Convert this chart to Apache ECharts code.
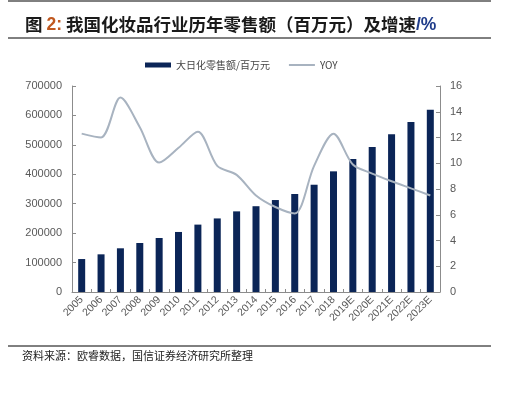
<!DOCTYPE html>
<html>
<head>
<meta charset="utf-8">
<style>
  html, body { margin: 0; padding: 0; background: #fff; }
  #chart { width: 505px; height: 396px; }
</style>
<script src="https://cdn.jsdelivr.net/npm/echarts@6/dist/echarts.min.js"></script>
</head>
<body>
<div id="chart"></div>
<script>
const years = ['2005', '2006', '2007', '2008', '2009', '2010', '2011', '2012', '2013', '2014',
  '2015', '2016', '2017', '2018', '2019E', '2020E', '2021E', '2022E', '2023E']
const sales = [112000, 128000, 148500, 166500, 183500, 204000, 229000, 250000, 274000, 291500,
  312500, 333000, 364500, 410000, 452000, 493000, 536000, 578000, 619500]
const yoy = [12.3, 12.0, 15.1, 12.8, 10.05, 11.2, 12.45, 9.8, 9.1, 7.5,
  6.6, 6.1, 9.8, 12.3, 9.9, 9.2, 8.6, 8.05, 7.5]

const chart = echarts.init(document.getElementById('chart'))
const font = 'Arial, "Liberation Sans", "Noto Sans CJK SC", sans-serif'
const axisGray = '#8c8c8c'

chart.setOption({
  animation: false,
  title: {
    text: '{a|图 }{b|2:}{a| 我国化妆品行业历年零售额（百万元）及增速}{c|/%}',
    left: 20,
    top: 11,
    textStyle: {
      rich: {
        a: { fontSize: 17.5, fontWeight: 'bold', color: '#1a1a1a', fontFamily: '"Noto Sans CJK SC", sans-serif' },
        b: { fontSize: 17.5, fontWeight: 'bold', color: '#c0581f', fontFamily: font },
        c: { fontSize: 17.5, fontWeight: 'bold', color: '#1f3c8a', fontFamily: font },
      },
    },
  },
  graphic: [
    { type: 'line', shape: { x1: 8, y1: 1, x2: 491, y2: 1 }, style: { stroke: '#000', lineWidth: 1 } },
    { type: 'line', shape: { x1: 8, y1: 38, x2: 491, y2: 38 }, style: { stroke: '#000', lineWidth: 1 } },
    { type: 'line', shape: { x1: 8, y1: 346, x2: 491, y2: 346 }, style: { stroke: '#000', lineWidth: 1 } },
    {
      type: 'text', left: 22, top: 350,
      style: { text: '资料来源：欧睿数据，国信证券经济研究所整理', fontSize: 11, fill: '#222', fontFamily: '"Noto Sans CJK SC", serif' },
    },
  ],
  legend: {
    top: 55,
    left: 140,
    itemWidth: 26,
    itemHeight: 5,
    itemGap: 18,
    textStyle: { fontSize: 10, color: '#444', fontFamily: '"Noto Sans CJK SC", sans-serif' },
    data: [
      { name: '大日化零售额/百万元', icon: 'rect' },
      { name: 'YOY', itemStyle: { opacity: 0 } },
    ],
  },
  grid: { left: 72, right: 65, top: 86, bottom: 104 },
  xAxis: {
    type: 'category',
    data: years,
    axisLine: { lineStyle: { color: axisGray } },
    axisTick: { show: true, inside: true, length: 3, lineStyle: { color: axisGray } },
    axisLabel: { rotate: 45, fontSize: 10.5, color: '#595959', fontFamily: font, margin: 6, interval: 0 },
  },
  yAxis: [
    {
      type: 'value',
      min: 0,
      max: 700000,
      interval: 100000,
      splitLine: { show: false },
      axisLine: { show: true, lineStyle: { color: axisGray } },
      axisTick: { show: true, inside: true, length: 4, lineStyle: { color: axisGray } },
      axisLabel: { fontSize: 11, color: '#595959', fontFamily: font, margin: 10, formatter: (v) => String(v) },
    },
    {
      type: 'value',
      min: 0,
      max: 16,
      interval: 2,
      splitLine: { show: false },
      axisLine: { show: true, lineStyle: { color: axisGray } },
      axisTick: { show: true, inside: true, length: 4, lineStyle: { color: axisGray } },
      axisLabel: { fontSize: 11, color: '#595959', fontFamily: font, margin: 10 },
    },
  ],
  series: [
    {
      name: '大日化零售额/百万元',
      type: 'bar',
      data: sales,
      barWidth: 7,
      itemStyle: { color: '#0b2557' },
    },
    {
      name: 'YOY',
      type: 'line',
      yAxisIndex: 1,
      data: yoy,
      smooth: 0.3,
      symbol: 'none',
      lineStyle: { color: '#a8b3c0', width: 2 },
      itemStyle: { color: '#a8b3c0' },
    },
  ],
})
</script>
</body>
</html>
